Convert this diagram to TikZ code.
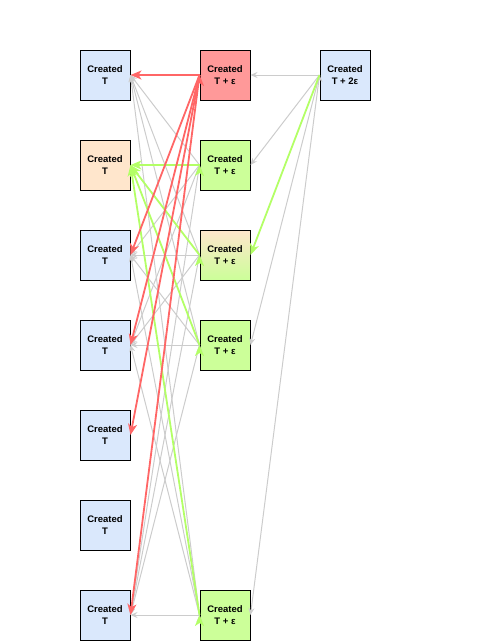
\documentclass[tikz,border=0pt]{standalone}
\usepackage{fontspec}
\setmainfont{Liberation Sans}
\usepackage{xcolor}
\usepackage{tikz}
\usetikzlibrary{arrows.meta,positioning}

\definecolor{blueFill}{HTML}{DAE8FC}
\definecolor{peachFill}{HTML}{FFE6CC}
\definecolor{redFill}{HTML}{FF9999}
\definecolor{greenFill}{HTML}{CCFF99}
\definecolor{redLine}{HTML}{FF6666}
\definecolor{greenLine}{HTML}{B3FF66}
\definecolor{grayLine}{HTML}{CCCCCC}

\tikzset{
	box/.style={draw=black,line width=1pt,minimum width=50pt,minimum height=50pt,inner sep=0pt,align=center,font=\fontsize{9.5}{12}\selectfont\bfseries},
	oldBox/.style={box,fill=blueFill},
	newBox/.style={box,fill=greenFill},
	grayLink/.style={grayLine,line width=1pt,-{Stealth[length=7pt,width=6pt,inset=2.5pt]}},
	greenLink/.style={greenLine,line width=1.8pt,-{Stealth[length=11pt,width=9pt,inset=3pt]}},
	redLink/.style={redLine,line width=1.8pt,-{Stealth[length=11pt,width=9pt,inset=3pt]}}
}

\begin{document}
\begin{tikzpicture}[x=1pt,y=-1pt]
		\useasboundingbox (0,0) rectangle (498,641);
		% left column
		\node[oldBox] (l1) at (105,75) {Created\\T};
		\node[box,fill=peachFill] (l2) at (105,165) {Created\\T};
		\node[oldBox] (l3) at (105,255) {Created\\T};
		\node[oldBox] (l4) at (105,345) {Created\\T};
		\node[oldBox] (l5) at (105,435) {Created\\T};
		\node[oldBox] (l6) at (105,525) {Created\\T};
		\node[oldBox] (l7) at (105,615) {Created\\T};
		% middle column
		\node[box,fill=redFill] (m1) at (225,75) {Created\\T + ε};
		\node[newBox] (m2) at (225,165) {Created\\T + ε};
		\node[box,top color=peachFill,bottom color=greenFill] (m3) at (225,255) {Created\\T + ε};
		\node[newBox] (m4) at (225,345) {Created\\T + ε};
		\node[newBox] (m7) at (225,615) {Created\\T + ε};
		% right column
		\node[oldBox] (r1) at (345,75) {Created\\T + 2ε};

		% gray links
		\draw[grayLink] (r1.west) edge (m1.east) edge (m2.east) edge (m4.east) edge (m7.east);
		\draw[grayLink] (m2.west) edge (l1.east) edge (l3.east) edge (l4.east) edge (l7.east);
		\draw[grayLink] (m3.west) edge (l1.east) edge (l3.east) edge (l4.east) edge (l7.east);
		\draw[grayLink] (m4.west) edge (l1.east) edge (l3.east) edge (l4.east) edge (l7.east);
		\draw[grayLink] (m7.west) edge (l1.east) edge (l3.east) edge (l4.east) edge (l7.east);
		% green links
		\draw[greenLink] (r1.west) -- (m3.east);
		\draw[greenLink] (m2.west) edge (l2.east);
		\draw[greenLink] (m3.west) edge (l2.east);
		\draw[greenLink] (m4.west) edge (l2.east);
		\draw[greenLink] (m7.west) edge (l2.east);
		% red links
		\draw[redLink] (m1.west) edge (l1.east) edge (l3.east) edge (l4.east) edge (l5.east) edge (l7.east);
	\end{tikzpicture}
\end{document}
